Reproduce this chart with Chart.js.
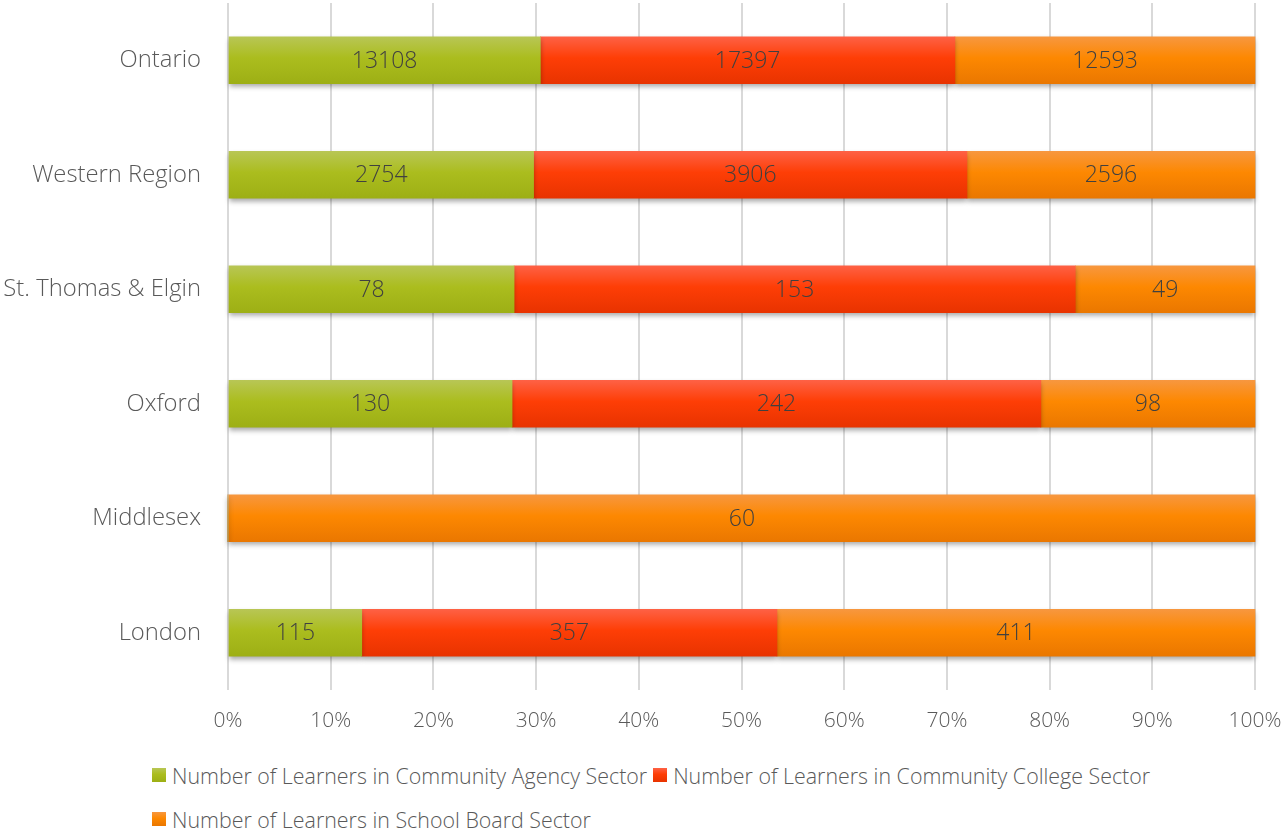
<!DOCTYPE html>
<html>
<head>
<meta charset="utf-8">
<script src="https://cdn.jsdelivr.net/npm/chart.js@4.4.1/dist/chart.umd.min.js"></script>
<style>
  body { margin: 0; background: #fff; font-family: 'Open Sans', sans-serif; }
  #wrap { position: relative; width: 1281px; height: 831px; overflow: hidden; }
  #chartBox { position: absolute; left: 0; top: 0; width: 1281px; height: 745px; }
  #legend { position: absolute; left: 152px; top: 760px; width: 1060px; display: flex; flex-wrap: wrap; row-gap: 14px; color: #595959; font-size: 21.4px; font-weight: 300; }
  .item { display: flex; align-items: center; height: 30px; margin-right: 6px; white-space: nowrap; }
  .box { width: 14px; height: 14px; margin-right: 6px; }
</style>
</head>
<body>
<div id="wrap">
  <div id="chartBox"><canvas id="myChart"></canvas></div>
  <div id="legend"></div>
</div>
<script>
const categories = ['Ontario', 'Western Region', 'St. Thomas & Elgin', 'Oxford', 'Middlesex', 'London'];
const agency = [13108, 2754, 78, 130, 0, 115];
const college = [17397, 3906, 153, 242, 0, 357];
const schoolBoard = [12593, 2596, 49, 98, 60, 411];
const seriesNames = [
  'Number of Learners in Community Agency Sector',
  'Number of Learners in Community College Sector',
  'Number of Learners in School Board Sector'
];
const xTicks = [0, 10, 20, 30, 40, 50, 60, 70, 80, 90, 100];

// top / middle / bottom shades for each series
const green = ['#b8c655', '#abbd1e', '#9daf15'];
const red = ['#fe6145', '#fe3e06', '#e83300'];
const orange = ['#f7973f', '#fd8801', '#ea7700'];

const barH = 47;

const totals = categories.map((c, i) => agency[i] + college[i] + schoolBoard[i]);
const pct = (arr) => arr.map((v, i) => v / totals[i] * 100);

function grad(cols) {
  return function (c) {
    const chart = c.chart;
    if (!chart.chartArea || !chart.scales.y) return cols[1];
    const y = chart.scales.y.getPixelForValue(c.dataIndex);
    const g = chart.ctx.createLinearGradient(0, y - barH / 2, 0, y + barH / 2);
    g.addColorStop(0, cols[0]);
    g.addColorStop(0.45, cols[1]);
    g.addColorStop(1, cols[2]);
    return g;
  };
}

const rawData = [agency, college, schoolBoard];

const barStuff = {
  id: 'barStuff',
  beforeDatasetsDraw(chart) {
    const c = chart.ctx;
    c.save();
    c.shadowColor = 'rgba(0,0,0,0.35)';
    c.shadowBlur = 5;
    c.shadowOffsetY = 3;
  },
  afterDatasetsDraw(chart) {
    const c = chart.ctx;
    c.restore();
    c.save();
    c.font = '300 23px "Open Sans", sans-serif';
    c.fillStyle = '#404040';
    c.textAlign = 'center';
    c.textBaseline = 'middle';
    chart.data.datasets.forEach((ds, di) => {
      const meta = chart.getDatasetMeta(di);
      meta.data.forEach((bar, i) => {
        const v = rawData[di][i];
        if (!v) return;
        c.fillText(String(v), (bar.x + bar.base) / 2, bar.y + 1);
      });
    });
    c.restore();
  }
};

const ctx = document.getElementById('myChart').getContext('2d');
const cols = [green, red, orange];

new Chart(ctx, {
  type: 'bar',
  data: {
    labels: categories,
    datasets: [
      { label: seriesNames[0], data: pct(agency), backgroundColor: grad(green) },
      { label: seriesNames[1], data: pct(college), backgroundColor: grad(red) },
      { label: seriesNames[2], data: pct(schoolBoard), backgroundColor: grad(orange) }
    ]
  },
  options: {
    indexAxis: 'y',
    responsive: true,
    maintainAspectRatio: false,
    animation: false,
    barThickness: barH,
    clip: false,
    layout: { padding: { top: 3, right: 26, left: 0, bottom: 0 } },
    plugins: { legend: { display: false }, tooltip: { enabled: false } },
    scales: {
      x: {
        stacked: true,
        min: 0,
        max: 100,
        afterBuildTicks(scale) { scale.ticks = xTicks.map(v => ({ value: v })); },
        afterFit(scale) {
          scale.height = 55;
          scale.paddingLeft = 0;
          scale.paddingRight = 0;
        },
        grid: { color: '#d9d9d9', lineWidth: 2, drawTicks: false },
        border: { display: false },
        ticks: {
          padding: 18,
          maxRotation: 0,
          color: '#595959',
          font: { family: '"Open Sans", sans-serif', size: 21, weight: 300 },
          callback: (v) => v + '%'
        }
      },
      y: {
        stacked: true,
        afterFit(scale) {
          scale.width = 228;
          scale.paddingTop = 0;
          scale.paddingBottom = 0;
        },
        grid: { display: false, drawTicks: false },
        border: { display: false },
        ticks: {
          padding: 27,
          color: '#595959',
          font: { family: '"Open Sans", sans-serif', size: 23.8, weight: 300 }
        }
      }
    }
  },
  plugins: [barStuff]
});

const legend = document.getElementById('legend');
seriesNames.forEach((name, i) => {
  const item = document.createElement('div');
  item.className = 'item';
  const box = document.createElement('span');
  box.className = 'box';
  box.style.background = 'linear-gradient(' + cols[i][0] + ',' + cols[i][1] + ' 45%,' + cols[i][2] + ')';
  const txt = document.createElement('span');
  txt.textContent = name;
  item.appendChild(box);
  item.appendChild(txt);
  legend.appendChild(item);
});
</script>
</body>
</html>
